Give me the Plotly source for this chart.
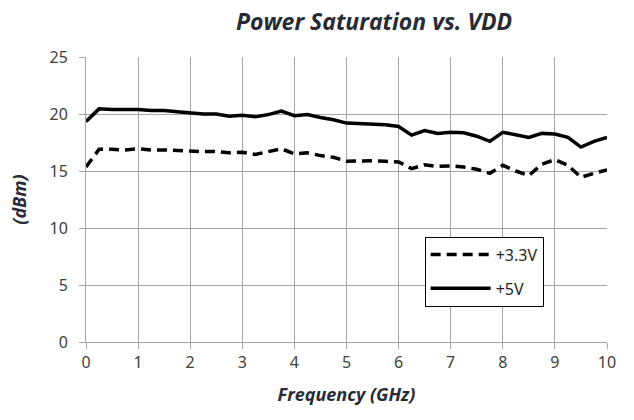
import plotly.graph_objects as go

freq_ghz = [i * 0.25 for i in range(41)]

p_33v = [15.35, 16.9, 16.9, 16.85, 16.95, 16.85, 16.85, 16.8, 16.7, 16.7,
         16.7, 16.6, 16.65, 16.45, 16.7, 16.95, 16.5, 16.6, 16.35, 16.2,
         15.85, 15.9, 15.9, 15.85, 15.8, 15.2, 15.55, 15.4, 15.45, 15.35,
         15.15, 14.8, 15.5, 15.0, 14.6, 15.6, 16.0, 15.5, 14.45, 14.8, 15.1]

p_5v = [19.35, 20.45, 20.4, 20.4, 20.4, 20.3, 20.3, 20.2, 20.1, 20.0,
        20.0, 19.8, 19.9, 19.75, 19.95, 20.25, 19.85, 19.95, 19.7, 19.5,
        19.2, 19.15, 19.15, 19.05, 18.9, 18.15, 18.55, 18.3, 18.4, 18.35,
        18.05, 17.6, 18.4, 18.2, 17.95, 18.3, 18.25, 17.95, 17.1, 17.6, 17.95]

x_ticks = list(range(0, 11))
y_ticks = [0, 5, 10, 15, 20, 25]

fig = go.Figure()
fig.add_trace(go.Scatter(x=freq_ghz, y=p_33v, mode="lines", name="+3.3V", legendgroup="a",
                         line=dict(color="black", width=3.5, dash="10px,6px")))
fig.add_trace(go.Scatter(x=freq_ghz, y=p_5v, mode="lines", name="+5V", legendgroup="b",
                         line=dict(color="black", width=3.5)))

tick_font = dict(family="Noto Sans", size=16, color="#404040")
title_font = dict(family="Open Sans", size=18, color="#262b36")

fig.update_layout(
    width=634, height=420,
    margin=dict(l=86, r=27, t=57, b=78),
    paper_bgcolor="white", plot_bgcolor="white",
    title=dict(text="<b><i>Power Saturation vs. VDD</i></b>", x=0.59, xanchor="center",
               y=0.948, yanchor="middle",
               font=dict(family="Open Sans", size=23, color="#262b36")),
    legend=dict(x=0.65, y=0.37, xanchor="left", yanchor="top",
                bgcolor="white", bordercolor="black", borderwidth=1,
                font=dict(family="Noto Sans", size=16, color="#262626"),
                tracegroupgap=10, itemwidth=60),
    showlegend=True,
)
fig.update_xaxes(range=[0, 10], tickvals=x_ticks, ticktext=[str(v) for v in x_ticks],
                 showgrid=True, gridcolor="#a6a6a6", gridwidth=1,
                 showline=True, linecolor="#a6a6a6", linewidth=1,
                 ticks="outside", ticklen=6, tickcolor="#a6a6a6",
                 tickfont=tick_font, zeroline=False, ticklabelstandoff=0,
                 title=dict(text="<b><i>Frequency (GHz)</i></b>", font=title_font, standoff=16))
fig.update_yaxes(range=[0, 25], tickvals=y_ticks, ticktext=[str(v) for v in y_ticks],
                 showgrid=True, gridcolor="#a6a6a6", gridwidth=1,
                 showline=True, linecolor="#a6a6a6", linewidth=1,
                 ticks="outside", ticklen=6, tickcolor="#a6a6a6",
                 tickfont=tick_font, zeroline=False, ticklabelstandoff=8,
                 title=dict(text="<b><i>(dBm)</i></b>", font=title_font, standoff=18))

fig.write_html("out.html")
